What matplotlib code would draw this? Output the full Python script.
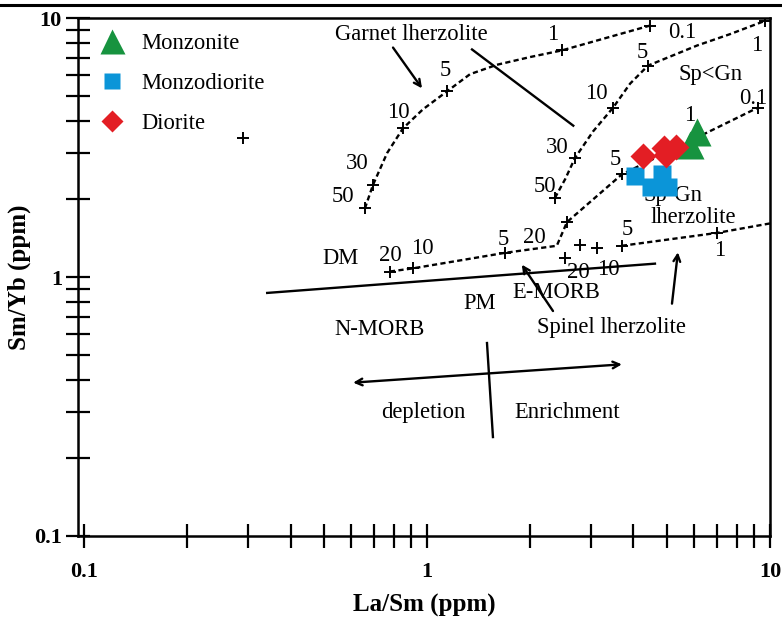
import matplotlib
matplotlib.use('Agg')
from matplotlib import pyplot as plt
from matplotlib.lines import Line2D
from matplotlib.ticker import LogLocator, NullFormatter, FuncFormatter

plt.rcParams['font.family'] = ['Liberation Serif', 'DejaVu Serif']

# sample groups (La/Sm, Sm/Yb)
monzonite_la_sm = [6.13, 5.84]
monzonite_sm_yb = [3.62, 3.22]
monzodiorite_la_sm = [4.04, 4.84, 4.50, 5.04]
monzodiorite_sm_yb = [2.45, 2.49, 2.22, 2.22]
diorite_la_sm = [4.26, 4.98, 4.91, 5.32]
diorite_sm_yb = [2.93, 2.96, 3.14, 3.19]

# garnet lherzolite melting curve
garnet_curve_x = [0.659, 0.696, 0.765, 0.851, 0.973, 1.144, 1.335, 1.60, 2.00, 2.475, 4.47]
garnet_curve_y = [1.84, 2.27, 3.01, 3.75, 4.44, 5.21, 6.07, 6.60, 7.07, 7.50, 9.35]
garnet_marks_x = [0.659, 0.696, 0.851, 1.144, 2.475, 4.47]
garnet_marks_y = [1.84, 2.27, 3.75, 5.21, 7.50, 9.35]

# Sp<Gn curve
mix_curve_x = [2.36, 2.53, 2.70, 3.05, 3.49, 3.91, 4.41, 6.13, 7.64, 9.67]
mix_curve_y = [2.02, 2.39, 2.88, 3.65, 4.51, 5.58, 6.55, 7.83, 8.66, 9.75]
mix_marks_x = [2.36, 2.70, 3.49, 4.41, 9.67]
mix_marks_y = [2.02, 2.88, 4.51, 6.55, 9.75]

# DM -> Sp-Gn lherzolite curve
dm_curve_x = [0.780, 0.910, 1.69, 2.39, 2.56, 3.70, 9.23]
dm_curve_y = [1.05, 1.08, 1.24, 1.32, 1.63, 2.49, 4.51]
dm_marks_x = [0.780, 0.910, 1.69, 2.56, 3.70, 9.23]
dm_marks_y = [1.05, 1.08, 1.24, 1.63, 2.49, 4.51]

# spinel lherzolite curve
spinel_curve_x = [3.70, 7.01, 10.0]
spinel_curve_y = [1.32, 1.48, 1.61]
spinel_marks_x = [3.70, 7.01, 2.53, 2.79, 3.13, 0.291]
spinel_marks_y = [1.32, 1.48, 1.18, 1.33, 1.29, 3.44]

# melt fraction labels along the curves
curve_labels = [
    ('50', 0.569, 2.05), ('30', 0.625, 2.74), ('10', 0.823, 4.33), ('5', 1.128, 6.28),
    ('1', 2.33, 8.66), ('0.1', 5.54, 8.81),
    ('50', 2.21, 2.24), ('30', 2.39, 3.16), ('10', 3.11, 5.12), ('5', 4.24, 7.38), ('1', 9.17, 7.83),
    ('20', 0.780, 1.215), ('10', 0.967, 1.29), ('5', 1.666, 1.40), ('20', 2.06, 1.415),
    ('5', 3.53, 2.83), ('1', 5.84, 4.22), ('0.1', 8.92, 4.91),
    ('5', 3.85, 1.53), ('1', 7.15, 1.27), ('20', 2.76, 1.04), ('10', 3.37, 1.07),
]

# field names
field_labels = [
    ('Garnet lherzolite', 0.898, 8.66), ('Sp<Gn', 6.73, 6.07), ('lherzolite', 5.97, 1.70),
    ('DM', 0.558, 1.184), ('PM', 1.427, 0.789), ('E-MORB', 2.39, 0.868),
    ('N-MORB', 0.729, 0.629), ('Spinel lherzolite', 3.46, 0.641),
    ('depletion', 0.973, 0.300), ('Enrichment', 2.56, 0.300),
]

FS = 16.3

fig = plt.figure(figsize=(7.82, 6.19), dpi=100)
ax = fig.add_axes([0.0997, 0.1341, 0.8849, 0.8368])
ax.set_xscale('log')
ax.set_yscale('log')
ax.set_xlim(0.096, 10)
ax.set_ylim(0.1, 10)

dash = (0, (2.2, 1.4))
for cx, cy in [(garnet_curve_x, garnet_curve_y), (mix_curve_x, mix_curve_y),
               (dm_curve_x, dm_curve_y), (spinel_curve_x, spinel_curve_y)]:
    ax.plot(cx, cy, color='black', linestyle=dash, lw=1.7, zorder=2)
for mx, my in [(garnet_marks_x, garnet_marks_y), (mix_marks_x, mix_marks_y),
               (dm_marks_x, dm_marks_y), (spinel_marks_x, spinel_marks_y)]:
    ax.plot(mx, my, linestyle='none', marker='+', ms=9, mew=1.4, color='black', zorder=2)

# solid boundaries and arrows
ax.plot([0.342, 4.62], [0.868, 1.126], color='black', lw=1.7)
ax.plot([1.353, 2.67], [7.56, 3.84], color='black', lw=1.7)
ax.plot([1.496, 1.557], [0.556, 0.241], color='black', lw=1.7)
arrow = dict(arrowstyle='->', lw=1.7, color='black', shrinkA=0, shrinkB=0,
             mutation_scale=12)
ax.annotate('', xy=(0.967, 5.35), xytext=(0.796, 7.69), arrowprops=arrow)
ax.annotate('', xy=(1.89, 1.116), xytext=(2.33, 0.739), arrowprops=arrow)
ax.annotate('', xy=(5.39, 1.246), xytext=(5.18, 0.789), arrowprops=arrow)
ax.annotate('', xy=(0.609, 0.391), xytext=(3.70, 0.460),
            arrowprops=dict(arrow, arrowstyle='<->'))

for txt, x, y in curve_labels + field_labels:
    ax.text(x, y, txt, fontsize=FS, ha='center', va='center', zorder=3)
ax.text(5.21, 2.07, 'Sp-Gn', fontsize=FS, ha='center', va='center', zorder=1)

ax.plot(monzonite_la_sm, monzonite_sm_yb, '^', color='#17933f', ms=20, mec='none',
        label='Monzonite', zorder=4)
ax.plot(monzodiorite_la_sm, monzodiorite_sm_yb, 's', color='#0b95d8', ms=13, mec='none',
        label='Monzodiorite', zorder=4)
ax.plot(diorite_la_sm, diorite_sm_yb, 'D', color='#e31e24', ms=13, mec='none',
        label='Diorite', zorder=5)

ax.legend(loc='upper left', bbox_to_anchor=(0.028, 0.972), frameon=False, fontsize=FS,
          borderpad=0, borderaxespad=0, handlelength=1.3, handletextpad=0.65,
          labelspacing=0.85, markerscale=0.9)

ax.xaxis.set_major_locator(LogLocator(base=10))
ax.xaxis.set_minor_locator(LogLocator(base=10, subs=range(2, 10)))
ax.yaxis.set_major_locator(LogLocator(base=10))
ax.yaxis.set_minor_locator(LogLocator(base=10, subs=range(2, 10)))
fmt = FuncFormatter(lambda v, _: f'{v:g}')
ax.xaxis.set_major_formatter(fmt)
ax.yaxis.set_major_formatter(fmt)
ax.xaxis.set_minor_formatter(NullFormatter())
ax.yaxis.set_minor_formatter(NullFormatter())
ax.tick_params(which='both', direction='inout', length=17, width=1.6, color='black')
ax.tick_params(axis='x', which='both', pad=10)
ax.tick_params(axis='y', which='both', pad=3)
for lab in ax.get_xticklabels() + ax.get_yticklabels():
    lab.set_fontweight('bold')
    lab.set_fontsize(16)
for sp in ax.spines.values():
    sp.set_linewidth(1.8)

ax.set_xlabel('La/Sm (ppm)', fontsize=18, fontweight='bold', labelpad=9)
ax.set_ylabel('Sm/Yb (ppm)', fontsize=18, fontweight='bold', labelpad=2)

# rule across the top of the page
fig.add_artist(Line2D([0, 1], [1 - 5 / 619, 1 - 5 / 619], color='black', lw=2.2))

fig.savefig('out.png', dpi=100)
